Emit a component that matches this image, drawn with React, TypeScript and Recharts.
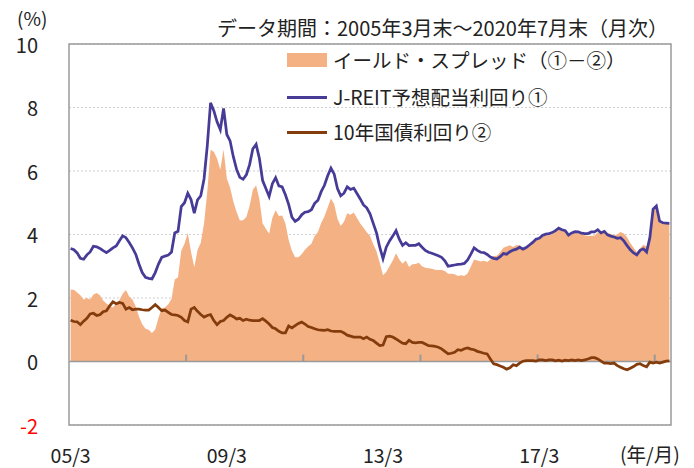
import {
  ComposedChart,
  Area,
  Line,
  XAxis,
  YAxis,
  CartesianGrid,
  ReferenceLine,
  ReferenceArea,
} from "recharts"

// monthly, 2005/3 .. 2020/7 (one row = Mar..Feb)
const startYear = 2005
const startMonth = 3

const jreitYield = [
  3.56, 3.52, 3.42, 3.25, 3.22, 3.36, 3.45, 3.63, 3.61, 3.56, 3.49, 3.43,
  3.5, 3.58, 3.64, 3.8, 3.96, 3.9, 3.75, 3.58, 3.38, 3.07, 2.8, 2.65,
  2.62, 2.6, 2.8, 3.07, 3.28, 3.32, 3.35, 3.45, 4.05, 4.1, 4.88, 5.0,
  5.3, 5.1, 4.67, 5.09, 5.22, 5.75, 6.8, 8.15, 7.9, 7.55, 7.3, 7.97,
  7.15, 6.95, 6.45, 6.05, 5.8, 5.74, 5.88, 6.2, 6.7, 6.84, 6.4, 5.7,
  5.45, 5.2, 5.6, 5.79, 5.53, 5.5, 5.25, 4.95, 4.55, 4.41, 4.48, 4.62,
  4.7, 4.72, 4.78, 4.98, 5.08, 5.35, 5.55, 5.85, 6.09, 5.9, 5.45, 5.22,
  5.3, 5.5, 5.42, 5.46, 5.29, 5.12, 4.93, 4.84, 4.65, 4.35, 4.05, 3.6,
  3.24, 3.6, 3.8, 3.95, 4.12, 3.85, 3.66, 3.74, 3.65, 3.66, 3.66, 3.71,
  3.6, 3.5, 3.44, 3.41, 3.37, 3.33, 3.28, 3.17, 3.0, 3.02, 3.04, 3.06,
  3.07, 3.09, 3.2, 3.38, 3.58, 3.5, 3.44, 3.43, 3.37, 3.29, 3.25, 3.23,
  3.3, 3.4, 3.38, 3.46, 3.51, 3.54, 3.6, 3.54, 3.59, 3.67, 3.75, 3.85,
  3.88, 3.97, 4.01, 4.03, 4.06, 4.12, 4.2, 4.15, 4.12, 3.98, 4.05, 4.09,
  4.08, 4.04, 4.03, 4.03, 4.08, 4.08, 4.15, 4.05, 4.1, 3.99, 3.95, 3.92,
  3.88, 3.9, 3.8, 3.65, 3.52, 3.42, 3.36, 3.5, 3.55, 3.45, 3.9, 4.8,
  4.9, 4.42, 4.37, 4.36, 4.35,
]

const jgbYield = [
  1.3, 1.26, 1.25, 1.16, 1.27, 1.36, 1.5, 1.52, 1.45, 1.47, 1.57, 1.6,
  1.75, 1.88, 1.82, 1.86, 1.83, 1.65, 1.7, 1.63, 1.65, 1.65, 1.63, 1.62,
  1.62, 1.7, 1.79, 1.7, 1.6, 1.62, 1.55, 1.48, 1.47, 1.45, 1.39, 1.29,
  1.25, 1.65, 1.7, 1.58, 1.48, 1.4, 1.45, 1.48, 1.29, 1.16, 1.26, 1.29,
  1.39, 1.47, 1.41, 1.34, 1.36, 1.29, 1.33, 1.3, 1.29, 1.29, 1.29, 1.35,
  1.27, 1.18, 1.07, 1.03, 0.95, 0.9, 0.9, 1.12, 1.06, 1.13, 1.2, 1.24,
  1.18, 1.1, 1.07, 1.03, 1.0, 0.99, 0.98, 1.0, 0.96, 0.95, 0.95, 0.95,
  0.9, 0.83, 0.8, 0.77, 0.77, 0.77, 0.72, 0.77, 0.7, 0.66, 0.58, 0.5,
  0.52, 0.78, 0.8, 0.77, 0.71, 0.64, 0.58, 0.56, 0.67, 0.6, 0.59, 0.6,
  0.6, 0.55, 0.5, 0.49, 0.48, 0.45, 0.4, 0.32, 0.24, 0.26, 0.29, 0.37,
  0.35, 0.4, 0.43, 0.39, 0.37, 0.32, 0.29, 0.26, 0.24, 0.08, -0.07, -0.1,
  -0.14, -0.18, -0.24, -0.2, -0.1, -0.13, -0.05, 0.01, 0.03, 0.03, 0.03, 0.01,
  0.05, 0.05, 0.03, 0.05, 0.05, 0.02, 0.04, 0.01, 0.04, 0.03, 0.05, 0.03,
  0.05, 0.03, 0.05, 0.08, 0.12, 0.12, 0.08, 0.01, -0.05, -0.05, -0.07, -0.05,
  -0.13, -0.18, -0.23, -0.26, -0.21, -0.16, -0.09, -0.07, -0.13, -0.17, -0.02, -0.05,
  -0.02, -0.05, -0.02, 0.01, 0.02,
]

const xTickLabels = ["05/3", "09/3", "13/3", "17/3"]
const xTickMarks = ["08/3", "11/3", "14/3", "17/3", "20/3"]
const yTicks = [-2, 0, 2, 4, 6, 8, 10]

const COLOR_SPREAD = "#F4B183"
const COLOR_JREIT = "#463C97"
const COLOR_JGB = "#843C0C"
const COLOR_FRAME = "#9A9A9A"
const COLOR_TEXT = "#222222"
const FONT = '"Noto Sans CJK JP", "Noto Sans", sans-serif'

const months = jreitYield.map((_, i) => {
  const t = startMonth - 1 + i
  const yy = (startYear + Math.floor(t / 12)) % 100
  return `${String(yy).padStart(2, "0")}/${(t % 12) + 1}`
})

const data = months.map((month, i) => ({
  idx: i,
  month,
  jreit: jreitYield[i],
  jgb: jgbYield[i],
  spread: +(jreitYield[i] - jgbYield[i]).toFixed(2),
}))

const legendItems = [
  { label: "イールド・スプレッド（①－②）", color: COLOR_SPREAD, kind: "area" },
  { label: "J-REIT予想配当利回り①", color: COLOR_JREIT, kind: "line" },
  { label: "10年国債利回り②", color: COLOR_JGB, kind: "line" },
]

function XTick({ x, y, payload }: any) {
  return (
    <text x={x} y={y} dy={21} textAnchor="middle" dominantBaseline="central" fontSize={19.5} fill={COLOR_TEXT} fontFamily={FONT}>
      {months[payload.value]}
    </text>
  )
}

function YTick({ x, y, payload }: any) {
  return (
    <text
      x={x}
      y={y}
      dx={-23}
      textAnchor="end"
      dominantBaseline="central"
      fontSize={20}
      fill={payload.value < 0 ? "#FF0000" : COLOR_TEXT}
      fontFamily={FONT}
    >
      {payload.value}
    </text>
  )
}

export default function App() {
  return (
    <div style={{ position: "absolute", left: 0, top: 0, width: 694, height: 468, background: "#fff", fontFamily: FONT, color: COLOR_TEXT }}>
      <ComposedChart width={694} height={468} data={data} margin={{ top: 44, right: 23, bottom: 0, left: 0 }}>
        <CartesianGrid vertical={false} stroke="#cfcfcf" strokeDasharray="2 2" />
        <XAxis
          type="number"
          dataKey="idx"
          domain={[-0.5, data.length - 0.5]}
          allowDataOverflow
          ticks={xTickLabels.map((l) => months.indexOf(l))}
          interval={0}
          tick={<XTick />}
          axisLine={false}
          tickLine={false}
          height={43}
        />
        <YAxis
          domain={[-2, 10]}
          allowDataOverflow
          ticks={yTicks}
          interval={0}
          tick={<YTick />}
          axisLine={false}
          tickLine={false}
          width={69}
        />
        <Area
          type="linear"
          dataKey="spread"
          baseValue={0}
          fill={COLOR_SPREAD}
          fillOpacity={1}
          stroke="none"
          dot={false}
          activeDot={false}
          isAnimationActive={false}
        />
        <ReferenceLine y={0} stroke={COLOR_FRAME} strokeWidth={1.5} />
        {xTickMarks.map((l) => {
          const k = months.indexOf(l) - 0.5
          return (
            <ReferenceLine
              key={l}
              segment={[{ x: k, y: 0 }, { x: k, y: 0.22 }]}
              stroke={COLOR_FRAME}
              strokeWidth={2}
            />
          )
        })}
        <Line
          type="linear"
          dataKey="jgb"
          stroke={COLOR_JGB}
          strokeWidth={2.75}
          dot={false}
          activeDot={false}
          isAnimationActive={false}
        />
        <Line
          type="linear"
          dataKey="jreit"
          stroke={COLOR_JREIT}
          strokeWidth={2.75}
          dot={false}
          activeDot={false}
          isAnimationActive={false}
        />
        <ReferenceArea y1={-2} y2={10} fill="none" fillOpacity={0} stroke={COLOR_FRAME} strokeWidth={1.5} />
      </ComposedChart>

      <div style={{ position: "absolute", left: 17, top: 7, fontSize: 19, lineHeight: "22px" }}>(%)</div>
      <div style={{ position: "absolute", right: 26, top: 17, fontSize: 20, lineHeight: "22px", whiteSpace: "nowrap" }}>
        データ期間：2005年3月末～2020年7月末（月次）
      </div>
      {legendItems.map((item, i) => {
        const cy = [60, 97, 132][i]
        return (
          <div key={item.label}>
            <div
              style={{
                position: "absolute",
                left: 287,
                width: 40,
                top: item.kind === "area" ? cy - 7 : cy - 1.5,
                height: item.kind === "area" ? 14 : 3,
                background: item.color,
              }}
            />
            <div style={{ position: "absolute", left: 333, top: cy - 11, fontSize: 19.5, lineHeight: "22px", whiteSpace: "nowrap" }}>
              {item.label}
            </div>
          </div>
        )
      })}
      <div style={{ position: "absolute", left: 620, top: 443, fontSize: 19.5, lineHeight: "22px", whiteSpace: "nowrap" }}>(年/月)</div>
    </div>
  )
}
